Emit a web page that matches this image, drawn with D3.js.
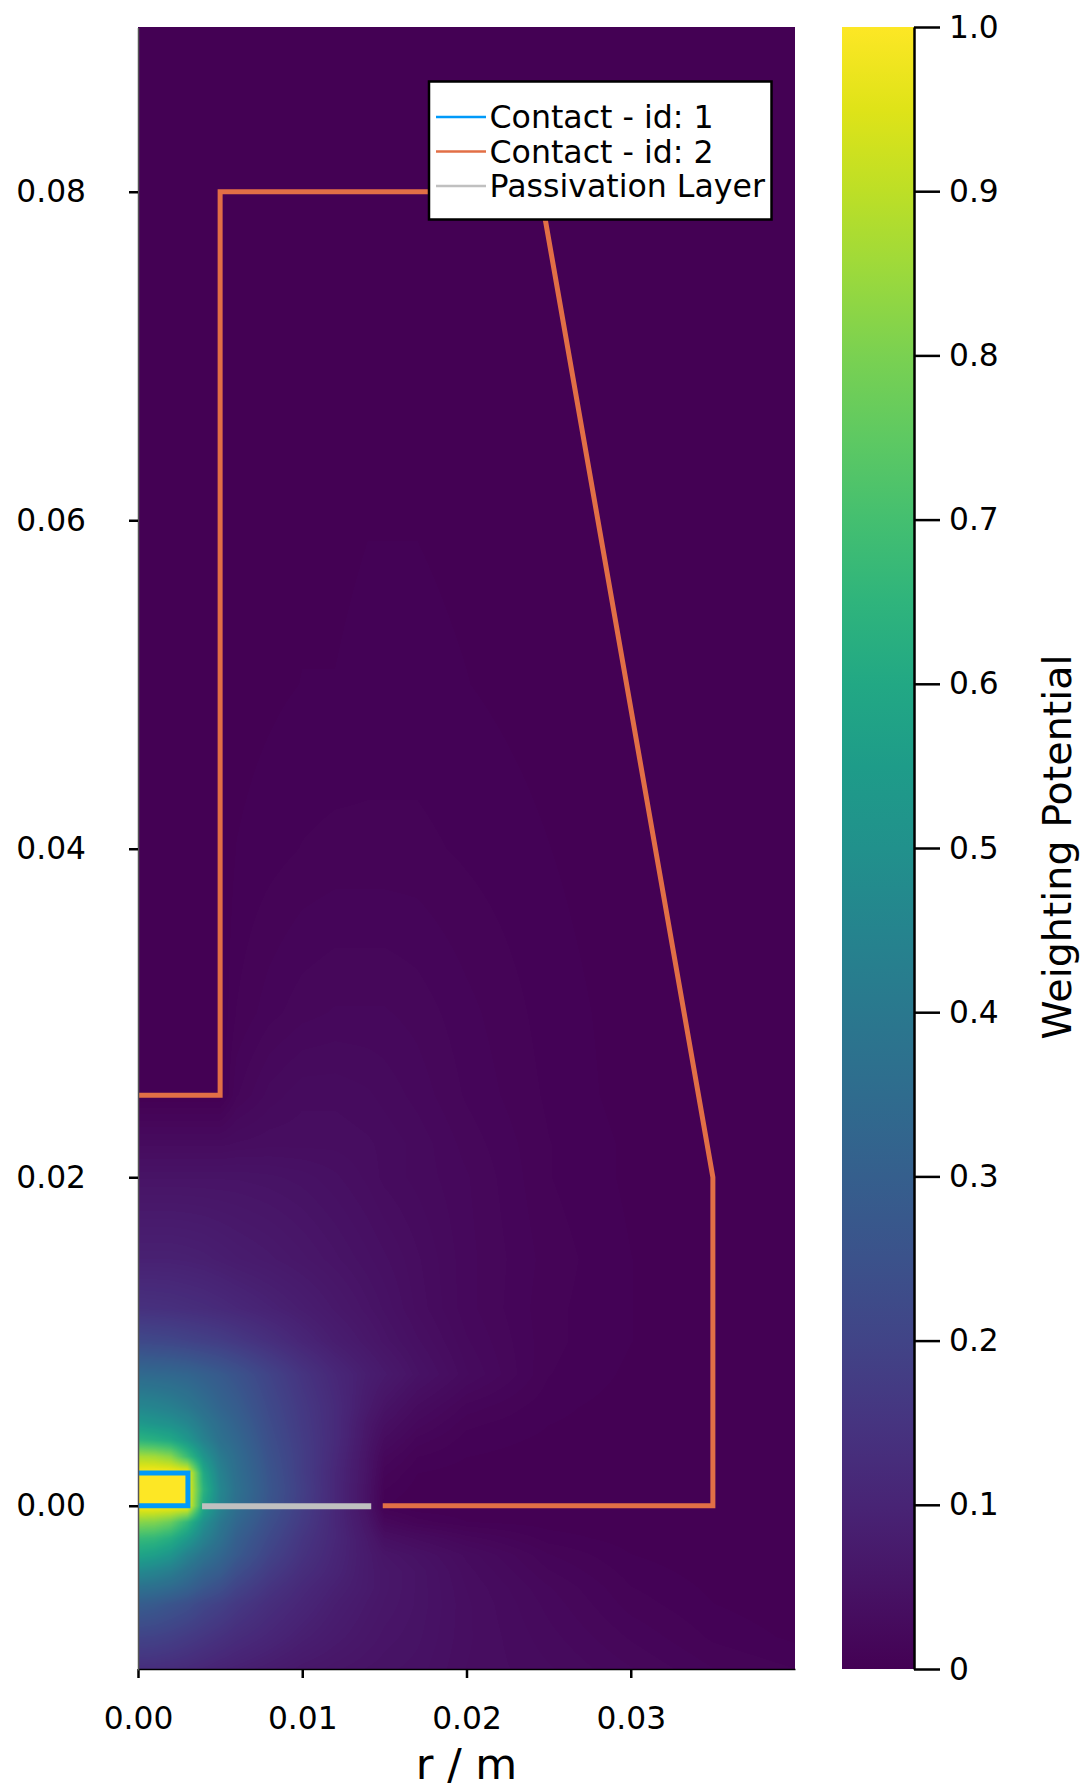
<!DOCTYPE html>
<html>
<head>
<meta charset="utf-8">
<script src="https://cdn.jsdelivr.net/npm/d3@7"></script>
<style>
  html, body { margin: 0; padding: 0; background: #fff; }
  text { font-family: "DejaVu Sans", sans-serif; fill: #000; }
</style>
</head>
<body>
<div id="chart"></div>
<script>
var rGrid = [0, .001, .002, .003, .004, .005, .006, .008, .010, .012, .014, .015, .017, .020, .025, .030, .035, .040];
var zGrid = [.09, .05, .04, .03, .025, .022, .02, .015, .012, .01, .008, .006, .005, .004, .003, .002, .001, 0,
             -.001, -.002, -.003, -.004, -.005, -.006, -.008, -.01];
// weighting potential, one row per zGrid entry
var potential = [
  [0,0,0,0,0,0,0,0,0,0,0,0,0,0,0,0,0,0],
  [0,0,0,0,0,0,.002,.003,.004,.004,.005,.005,.005,.004,.002,0,0,0],
  [0,0,0,0,0,0,.004,.006,.008,.009,.009,.009,.009,.007,.004,.001,0,0],
  [0,0,0,0,0,0,.008,.014,.018,.02,.02,.02,.018,.013,.006,.002,0,0],
  [0,0,0,0,0,0,.015,.025,.03,.03,.028,.026,.022,.015,.007,.002,0,0],
  [.03,.03,.03,.03,.03,.03,.032,.034,.034,.034,.032,.03,.026,.018,.008,.003,0,0],
  [.05,.05,.05,.05,.05,.05,.05,.048,.045,.04,.034,.03,.026,.02,.008,.003,0,0],
  [.09,.09,.09,.088,.085,.08,.075,.068,.06,.052,.044,.04,.032,.021,.01,.004,0,0],
  [.14,.138,.135,.13,.125,.118,.11,.095,.08,.065,.052,.046,.034,.021,.009,.004,0,0],
  [.22,.215,.21,.2,.19,.18,.165,.135,.105,.08,.062,.053,.04,.024,.009,.004,0,0],
  [.34,.335,.33,.32,.3,.28,.255,.2,.15,.11,.08,.068,.048,.028,.008,.003,0,0],
  [.46,.45,.43,.4,.36,.32,.29,.22,.165,.12,.07,.05,.03,.014,.005,.002,0,0],
  [.54,.52,.5,.46,.4,.35,.31,.23,.17,.12,.06,.04,.022,.009,.004,.002,0,0],
  [.65,.63,.6,.53,.44,.37,.33,.24,.175,.12,.055,.03,.014,.006,.003,.001,0,0],
  [.87,.86,.82,.68,.52,.41,.35,.25,.18,.115,.05,.02,.008,.004,.002,.001,0,0],
  [1,1,1,1,.6,.44,.36,.26,.18,.11,.048,.013,.004,.002,.001,0,0,0],
  [1,1,1,1,.64,.46,.37,.265,.185,.11,.045,.008,.002,.001,0,0,0,0],
  [1,1,1,1,.6,.45,.36,.26,.18,.11,.045,.004,0,0,0,0,0,0],
  [.82,.81,.77,.66,.5,.4,.33,.24,.17,.11,.055,.02,.01,.004,.002,.001,0,0],
  [.67,.66,.62,.54,.44,.37,.3,.22,.155,.11,.065,.04,.03,.018,.006,.002,.001,0],
  [.58,.56,.52,.44,.38,.33,.28,.2,.145,.105,.07,.055,.045,.03,.012,.004,.001,0],
  [.47,.45,.42,.37,.32,.29,.24,.175,.13,.1,.07,.06,.05,.033,.016,.006,.002,0],
  [.37,.36,.34,.31,.27,.24,.2,.15,.115,.09,.07,.06,.05,.035,.02,.008,.003,.001],
  [.29,.28,.26,.24,.21,.19,.165,.13,.105,.082,.065,.058,.05,.036,.022,.01,.004,.001],
  [.2,.195,.185,.17,.155,.14,.125,.105,.085,.07,.058,.053,.048,.036,.025,.015,.007,.003],
  [.13,.128,.122,.115,.105,.095,.088,.075,.062,.055,.05,.048,.045,.035,.028,.02,.012,.008]
];

var contact1R = [0, .00304, .00304, 0];
var contact1Z = [.002, .002, 0, 0];
var contact2R = [0, .005, .005, .0245, .035, .035, .0149];
var contact2Z = [.025, .025, .08, .08, .02, 0, 0];
var passivationR = [.0039, .0142];
var passivationZ = [-.00003, -.00003];

var rTicks = [0, .01, .02, .03];
var zTicks = [0, .02, .04, .06, .08];
var cbTicks = [0, .1, .2, .3, .4, .5, .6, .7, .8, .9, 1];
var legendNames = ["Contact - id: 1", "Contact - id: 2", "Passivation Layer"];
var legendColors = ["#009af9", "#e26f46", "#c0c0c0"];

var W = 1082, H = 1789;
var plot = { l: 138, r: 795, t: 27, b: 1669 };
var bar = { l: 842, r: 914, t: 27, b: 1669 };

var x = d3.scaleLinear().domain([0, .04]).range([plot.l, plot.r]);
var y = d3.scaleLinear().domain([-.01, .09]).range([plot.b + 1, plot.t + .5]);
var cb = d3.scaleLinear().domain([0, 1]).range([bar.b, bar.t]);
var color = d3.scaleSequential(d3.interpolateViridis).domain([0, 1]);

var svg = d3.select("#chart").append("svg")
    .attr("width", W)
    .attr("height", H)
    .style("display", "block");

function heatmapImage() {
    var w = plot.r - plot.l, h = plot.b - plot.t;
    var canvas = document.createElement("canvas");
    canvas.width = w;
    canvas.height = h;
    var ctx = canvas.getContext("2d");
    var img = ctx.createImageData(w, h);
    var zAsc = zGrid.slice().reverse();
    var n = zGrid.length;
    for (var j = 0; j < h; j++) {
        var z = y.invert(plot.t + j + .5);
        var k = Math.min(Math.max(d3.bisectRight(zAsc, z), 1), n - 1);
        var tz = (z - zAsc[k - 1]) / (zAsc[k] - zAsc[k - 1]);
        var row0 = n - k;      // lower z
        var row1 = n - 1 - k;  // upper z
        for (var i = 0; i < w; i++) {
            var r = x.invert(plot.l + i + .5);
            var m = Math.min(Math.max(d3.bisectRight(rGrid, r), 1), rGrid.length - 1);
            var tr = (r - rGrid[m - 1]) / (rGrid[m] - rGrid[m - 1]);
            var lo = potential[row0][m - 1] * (1 - tr) + potential[row0][m] * tr;
            var hi = potential[row1][m - 1] * (1 - tr) + potential[row1][m] * tr;
            var c = d3.rgb(color(lo * (1 - tz) + hi * tz));
            var p = 4 * (j * w + i);
            img.data[p] = c.r;
            img.data[p + 1] = c.g;
            img.data[p + 2] = c.b;
            img.data[p + 3] = 255;
        }
    }
    ctx.putImageData(img, 0, 0);
    return canvas.toDataURL();
}

svg.append("image")
    .attr("x", plot.l)
    .attr("y", plot.t)
    .attr("width", plot.r - plot.l)
    .attr("height", plot.b - plot.t)
    .attr("href", heatmapImage());

var defs = svg.append("defs");
defs.append("clipPath")
    .attr("id", "plotClip")
    .append("rect")
    .attr("x", plot.l)
    .attr("y", plot.t)
    .attr("width", plot.r - plot.l)
    .attr("height", plot.b - plot.t);

// contours
var line = d3.line().x(function(d) { return x(d[0]); }).y(function(d) { return y(d[1]); });
var contours = svg.append("g").attr("clip-path", "url(#plotClip)");

contours.append("path")
    .attr("d", line(d3.zip(passivationR, passivationZ)))
    .attr("fill", "none")
    .attr("stroke", legendColors[2])
    .attr("stroke-width", 6);
contours.append("path")
    .attr("d", line(d3.zip(contact2R, contact2Z)))
    .attr("fill", "none")
    .attr("stroke", legendColors[1])
    .attr("stroke-width", 5);
contours.append("path")
    .attr("d", line(d3.zip(contact1R, contact1Z)))
    .attr("fill", "none")
    .attr("stroke", legendColors[0])
    .attr("stroke-width", 5);

// axes
var xAxis = svg.append("g")
    .attr("transform", "translate(0," + plot.b + ")")
    .call(d3.axisBottom(x).tickValues(rTicks).tickFormat(d3.format(".2f")).tickSizeInner(9).tickSizeOuter(0).tickPadding(29));
var yAxis = svg.append("g")
    .attr("transform", "translate(" + plot.l + ",0)")
    .call(d3.axisLeft(y).tickValues(zTicks).tickFormat(d3.format(".2f")).tickSizeInner(9).tickSizeOuter(0).tickPadding(43));

xAxis.select(".domain").attr("stroke", "#000").attr("stroke-width", 1.5);
yAxis.select(".domain").attr("stroke", "#555").attr("stroke-width", 1.5);
[xAxis, yAxis].forEach(function(a) {
    a.selectAll(".tick line").attr("stroke-width", 2.5);
    a.selectAll("text").style("font-size", "31.3px").attr("font-family", null);
});

svg.append("text")
    .attr("x", x(.02))
    .attr("y", 1764)
    .attr("text-anchor", "middle")
    .attr("dominant-baseline", "central")
    .style("font-size", "43px")
    .text("r / m");

// legend
var legend = svg.append("g");
legend.append("rect")
    .attr("x", 429)
    .attr("y", 81.5)
    .attr("width", 342.5)
    .attr("height", 138)
    .attr("fill", "#fff")
    .attr("stroke", "#000")
    .attr("stroke-width", 2.5);
legendNames.forEach(function(name, i) {
    var ly = 117 + i * 34.5;
    legend.append("line")
        .attr("x1", 436).attr("x2", 486)
        .attr("y1", ly).attr("y2", ly)
        .attr("stroke", legendColors[i])
        .attr("stroke-width", 2.5);
    legend.append("text")
        .attr("x", 489.5)
        .attr("y", ly)
        .attr("dominant-baseline", "central")
        .style("font-size", "31.6px")
        .text(name);
});

// colorbar
var grad = defs.append("linearGradient")
    .attr("id", "viridisBar")
    .attr("x1", 0).attr("x2", 0)
    .attr("y1", 1).attr("y2", 0);
d3.range(0, 1.001, .05).forEach(function(t) {
    grad.append("stop").attr("offset", t).attr("stop-color", color(t));
});
svg.append("rect")
    .attr("x", bar.l)
    .attr("y", bar.t)
    .attr("width", bar.r - bar.l)
    .attr("height", bar.b - bar.t)
    .attr("fill", "url(#viridisBar)");

var cbAxis = svg.append("g")
    .attr("transform", "translate(" + bar.r + ",0)")
    .call(d3.axisRight(cb).tickValues(cbTicks)
        .tickFormat(function(d) { return d === 0 ? "0" : d3.format(".1f")(d); })
        .tickSizeInner(26).tickSizeOuter(0).tickPadding(9));
cbAxis.select(".domain").attr("stroke", "#000").attr("stroke-width", 2.5);
cbAxis.selectAll(".tick line").attr("stroke-width", 2.5);
cbAxis.selectAll("text").style("font-size", "31.3px").attr("font-family", null);

svg.append("text")
    .attr("transform", "translate(1057,847) rotate(-90)")
    .attr("text-anchor", "middle")
    .attr("dominant-baseline", "central")
    .style("font-size", "39.6px")
    .text("Weighting Potential");
</script>
</body>
</html>
